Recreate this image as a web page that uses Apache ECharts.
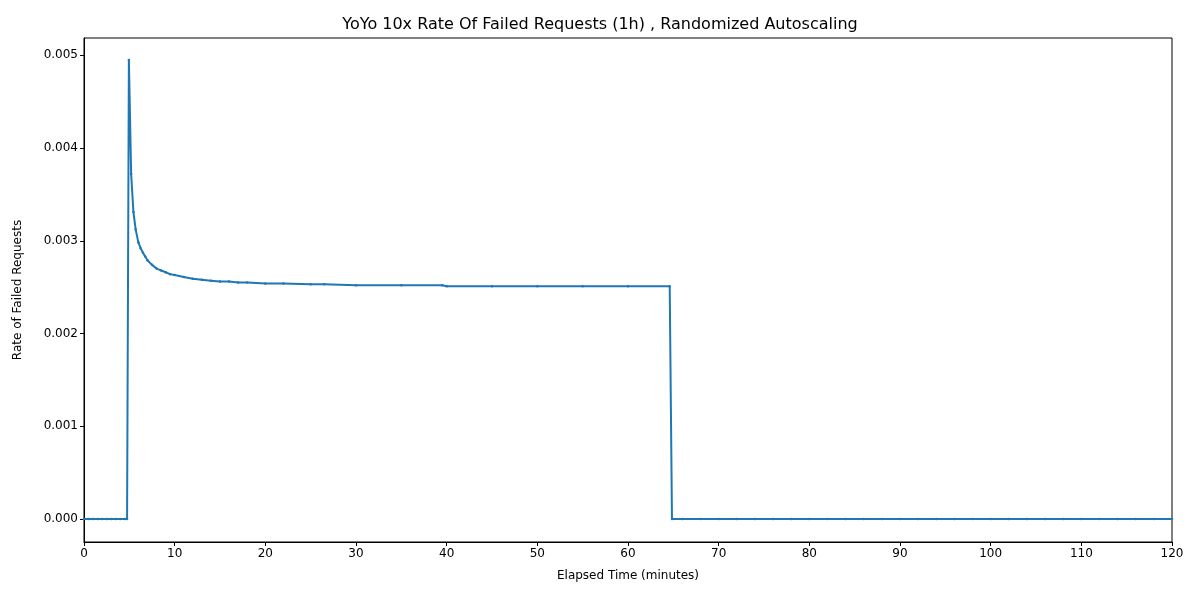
<!DOCTYPE html>
<html>
<head>
<meta charset="utf-8">
<script src="https://cdn.jsdelivr.net/npm/echarts@6/dist/echarts.min.js"></script>
<style>html,body{margin:0;background:#fff}#chart{width:1200px;height:600px}</style>
</head>
<body>
<div id="chart"></div>
<script>
// elapsed minutes and failure rate
const leadTimes = [0,0.5,1,1.5,2,2.5,3,3.5,4,4.5,4.75];
const leadRates = [0,0,0,0,0,0,0,0,0,0,0];
const burstTimes = [4.95,5.2,5.45,5.7,6.0,6.25,6.5,6.75,7,7.5,8,8.5,9,9.5,10,11,12,13,14,15,16,17,18,20,22,25,26.5,30,35,39.5,40,45,50,55,60,64.6];
const burstRates = [0.00495,0.00372,0.00331,0.00312,0.00298,0.00292,0.00287,0.00283,0.00279,0.00274,0.00270,0.00268,0.00266,0.00264,0.00263,0.00261,0.00259,0.00258,0.00257,0.00256,0.00256,0.00255,0.00255,0.00254,0.00254,0.00253,0.00253,0.00252,0.00252,0.00252,0.00251,0.00251,0.00251,0.00251,0.00251,0.00251];
const tailTimes = [64.85,66,68,70,72,74,76,78,80,82,84,86,88,90,92,94,96,98,100,102,104,106,108,110,112,114,116,118,120];
const tailRates = tailTimes.map(() => 0);
const yTicks = [0,0.001,0.002,0.003,0.004,0.005];

const times = leadTimes.concat(burstTimes, tailTimes);
const rates = leadRates.concat(burstRates, tailRates);
const points = times.map((t, i) => [t, rates[i]]);

const chart = echarts.init(document.getElementById('chart'));
const font = 'DejaVu Sans';
chart.setOption({
    animation: false,
    title: {
        text: 'YoYo 10x Rate Of Failed Requests (1h) , Randomized Autoscaling',
        left: 'center', top: 12,
        textStyle: {fontFamily: font, fontSize: 16, fontWeight: 'normal', color: '#000'}
    },
    grid: {left: 84, right: 28, top: 38, bottom: 58},
    xAxis: {
        type: 'value', min: 0, max: 120, interval: 10,
        name: 'Elapsed Time (minutes)', nameLocation: 'middle', nameGap: 28,
        nameTextStyle: {fontFamily: font, fontSize: 12, color: '#000'},
        axisLine: {show: true, onZero: false, lineStyle: {color: '#000'}},
        axisTick: {show: true, length: 4, lineStyle: {color: '#000'}},
        axisLabel: {fontFamily: font, fontSize: 12, color: '#000', margin: 6},
        splitLine: {show: false}
    },
    yAxis: {
        type: 'value', min: -0.000248, max: 0.005186,
        name: 'Rate of Failed Requests', nameLocation: 'middle', nameGap: 60,
        nameTextStyle: {fontFamily: font, fontSize: 12, color: '#000'},
        axisLine: {show: true, onZero: false, lineStyle: {color: '#000'}},
        axisTick: {show: true, length: 4, customValues: yTicks, lineStyle: {color: '#000'}},
        axisLabel: {
            fontFamily: font, fontSize: 12, color: '#000', margin: 6,
            customValues: yTicks,
            formatter: v => v.toFixed(3)
        },
        splitLine: {show: false}
    },
    series: [{
        type: 'line', data: points,
        symbol: 'circle', symbolSize: 2.5,
        lineStyle: {color: '#1f77b4', width: 2},
        itemStyle: {color: '#1f77b4'}
    }]
});
// box around the plot like matplotlib
chart.setOption({graphic: [{type: 'rect', shape: {x: 84, y: 38, width: 1088, height: 504}, style: {fill: 'none', stroke: '#000', lineWidth: 1}, silent: true}]});
</script>
</body>
</html>
